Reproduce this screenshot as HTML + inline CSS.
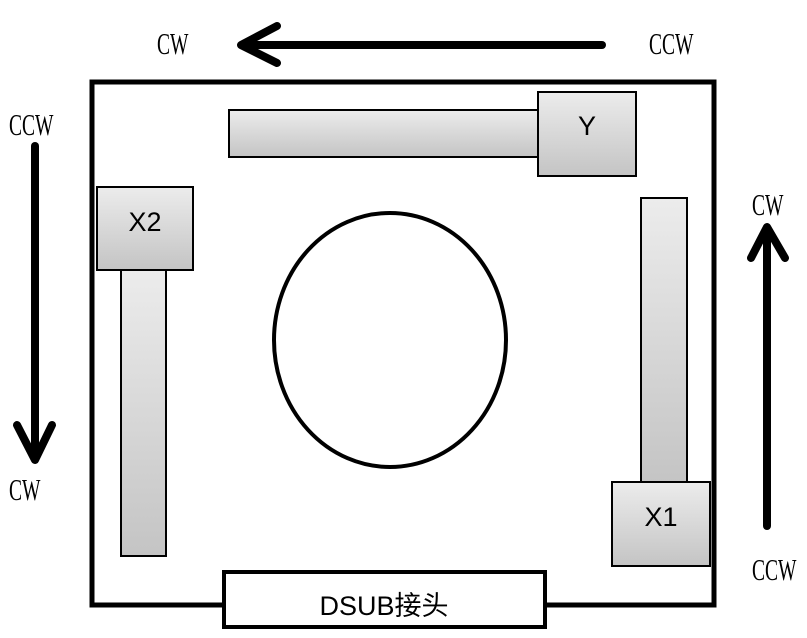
<!DOCTYPE html>
<html><head><meta charset="utf-8"><style>
html,body{margin:0;padding:0;background:#fff;}
svg{display:block;}
.l{font-family:"Liberation Serif",serif;font-size:31px;fill:#000;}
.s{font-family:"Liberation Sans","Noto Sans CJK SC",sans-serif;fill:#000;}
</style></head><body>
<svg width="807" height="638" viewBox="0 0 807 638" xmlns="http://www.w3.org/2000/svg">
<defs>
<linearGradient id="gv" x1="0" y1="0" x2="0" y2="1">
<stop offset="0" stop-color="#ececec"/><stop offset="1" stop-color="#c4c4c4"/></linearGradient>
</defs>
<rect x="92" y="82" width="622" height="523" fill="#fff" stroke="#000" stroke-width="5"/>
<g stroke="#000" stroke-width="8" stroke-linecap="round" stroke-linejoin="round" fill="none">
<line x1="602" y1="45" x2="244" y2="45"/>
<polyline points="277,26 241,45 277,63"/>
<line x1="35" y1="146" x2="35" y2="458"/>
<polyline points="17,425 35,460 52,425"/>
<line x1="767" y1="526" x2="767" y2="230"/>
<polyline points="751,258 767,227 785,258"/>
</g>
<g class="l">
<text transform="translate(157,54) scale(0.63,1)">CW</text>
<text transform="translate(649,54) scale(0.63,1)">CCW</text>
<text transform="translate(9,135) scale(0.63,1)">CCW</text>
<text transform="translate(9,500) scale(0.63,1)">CW</text>
<text transform="translate(752,215) scale(0.63,1)">CW</text>
<text transform="translate(752,580) scale(0.63,1)">CCW</text>
</g>
<rect x="229" y="110" width="311" height="47" fill="url(#gv)" stroke="#000" stroke-width="2"/>
<rect x="538" y="92" width="98" height="84" fill="url(#gv)" stroke="#000" stroke-width="2"/>
<text class="s" x="587" y="135" font-size="27" text-anchor="middle">Y</text>
<rect x="121" y="269" width="45" height="287" fill="url(#gv)" stroke="#000" stroke-width="2"/>
<rect x="97" y="187" width="96" height="83" fill="url(#gv)" stroke="#000" stroke-width="2"/>
<text class="s" x="145" y="231" font-size="27" text-anchor="middle">X2</text>
<rect x="641" y="198" width="46" height="286" fill="url(#gv)" stroke="#000" stroke-width="2"/>
<rect x="612" y="482" width="98" height="84" fill="url(#gv)" stroke="#000" stroke-width="2"/>
<text class="s" x="661" y="526" font-size="27" text-anchor="middle">X1</text>
<ellipse cx="390" cy="340" rx="116" ry="127" fill="none" stroke="#000" stroke-width="4"/>
<rect x="224" y="572" width="321" height="55" fill="#fff" stroke="#000" stroke-width="4"/>
<text class="s" x="384" y="615" font-size="27" text-anchor="middle">DSUB接头</text>
</svg>
</body></html>
